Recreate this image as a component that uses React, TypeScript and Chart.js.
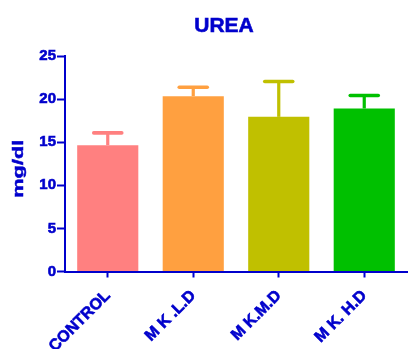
import React, { useEffect, useRef } from "react";
import { Chart, registerables } from "chart.js";

Chart.register(...registerables);

const categories = ["CONTROL", "M K .L.D", "M K.M.D", "M K. H.D"];
const means = [14.66, 20.34, 17.94, 18.91];
const sems = [1.42, 1.04, 4.1, 1.51];
const barColors = ["#FF8080", "#FFA040", "#C0C000", "#00C000"];
const yTicks = [0, 5, 10, 15, 20, 25];

const BLUE = "#0000CC";
const FONT = "'Liberation Sans', Arial, sans-serif";

// Upper-only error bars with a flat cap, in the bar's colour
const errorBarPlugin = {
  id: "errorBars",
  afterDatasetsDraw(chart: any) {
    const ctx = chart.ctx;
    const yScale = chart.scales.y;
    const meta = chart.getDatasetMeta(0);
    ctx.save();
    meta.data.forEach((bar: any, i: number) => {
      const x = bar.x;
      const yTop = yScale.getPixelForValue(means[i]);
      const yCap = yScale.getPixelForValue(means[i] + sems[i]);
      ctx.strokeStyle = barColors[i];
      ctx.lineWidth = 3.2;
      ctx.lineCap = "butt";
      ctx.beginPath();
      ctx.moveTo(x, yTop);
      ctx.lineTo(x, yCap);
      ctx.stroke();
      ctx.lineWidth = 3.6;
      ctx.lineCap = "round";
      ctx.beginPath();
      ctx.moveTo(x - 14, yCap);
      ctx.lineTo(x + 14, yCap);
      ctx.stroke();
    });
    ctx.restore();
  },
};

// Chart title and the wide y-axis title
const textPlugin = {
  id: "titles",
  afterDraw(chart: any) {
    const ctx = chart.ctx;
    const area = chart.chartArea;
    ctx.save();
    ctx.fillStyle = BLUE;
    ctx.strokeStyle = BLUE;
    ctx.lineWidth = 0.6;
    ctx.font = `bold 21px ${FONT}`;
    ctx.textAlign = "center";
    ctx.textBaseline = "alphabetic";
    ctx.fillText("UREA", 224, 32);
    ctx.strokeText("UREA", 224, 32);

    ctx.translate(19, (area.top + area.bottom) / 2 + 5);
    ctx.rotate(-Math.PI / 2);
    ctx.scale(1.45, 1);
    ctx.font = `bold 15px ${FONT}`;
    ctx.textBaseline = "middle";
    ctx.fillText("mg/dl", 0, 0);
    ctx.lineWidth = 0.5;
    ctx.strokeText("mg/dl", 0, 0);
    ctx.restore();
  },
};

export default function App() {
  const canvasRef = useRef<HTMLCanvasElement | null>(null);

  useEffect(() => {
    const canvas = canvasRef.current;
    if (!canvas) return;
    const chart = new Chart(canvas, {
      type: "bar",
      data: {
        labels: categories,
        datasets: [
          {
            data: means,
            backgroundColor: barColors,
            borderWidth: 0,
            barPercentage: 0.715,
            categoryPercentage: 1,
          },
        ],
      },
      options: {
        animation: false,
        responsive: false,
        maintainAspectRatio: false,
        layout: { padding: { top: 56, right: 1, left: 0, bottom: 0 } },
        plugins: {
          legend: { display: false },
          title: { display: false },
          tooltip: { enabled: false },
        },
        scales: {
          x: {
            afterFit(scale: any) {
              scale.height = 77.5;
            },
            border: { display: true, color: BLUE, width: 2 },
            grid: {
              display: true,
              offset: false,
              drawOnChartArea: false,
              drawTicks: true,
              tickLength: 6,
              tickColor: BLUE,
              tickWidth: 2,
            },
            ticks: {
              color: BLUE,
              font: { family: FONT, size: 16, weight: "bold" },
              textStrokeColor: BLUE,
              textStrokeWidth: 0.6,
              maxRotation: 45,
              minRotation: 45,
              padding: 9,
            },
          },
          y: {
            min: 0,
            max: 25,
            afterFit(scale: any) {
              scale.width = 65;
            },
            afterBuildTicks(scale: any) {
              scale.ticks = yTicks.map((v) => ({ value: v }));
            },
            border: { display: true, color: BLUE, width: 2 },
            grid: {
              display: true,
              drawOnChartArea: false,
              drawTicks: true,
              tickLength: 8,
              tickColor: BLUE,
              tickWidth: 2,
            },
            ticks: {
              color: BLUE,
              font: { family: FONT, size: 15, weight: "bold" },
              textStrokeColor: BLUE,
              textStrokeWidth: 0.6,
              padding: 1,
            },
          },
        },
      },
      plugins: [errorBarPlugin, textPlugin],
    });
    return () => chart.destroy();
  }, []);

  return (
    <div style={{ position: "fixed", left: 0, top: 0, width: 408, height: 349, background: "#fff" }}>
      <canvas ref={canvasRef} width={408} height={349} style={{ width: 408, height: 349, display: "block" }} />
    </div>
  );
}
